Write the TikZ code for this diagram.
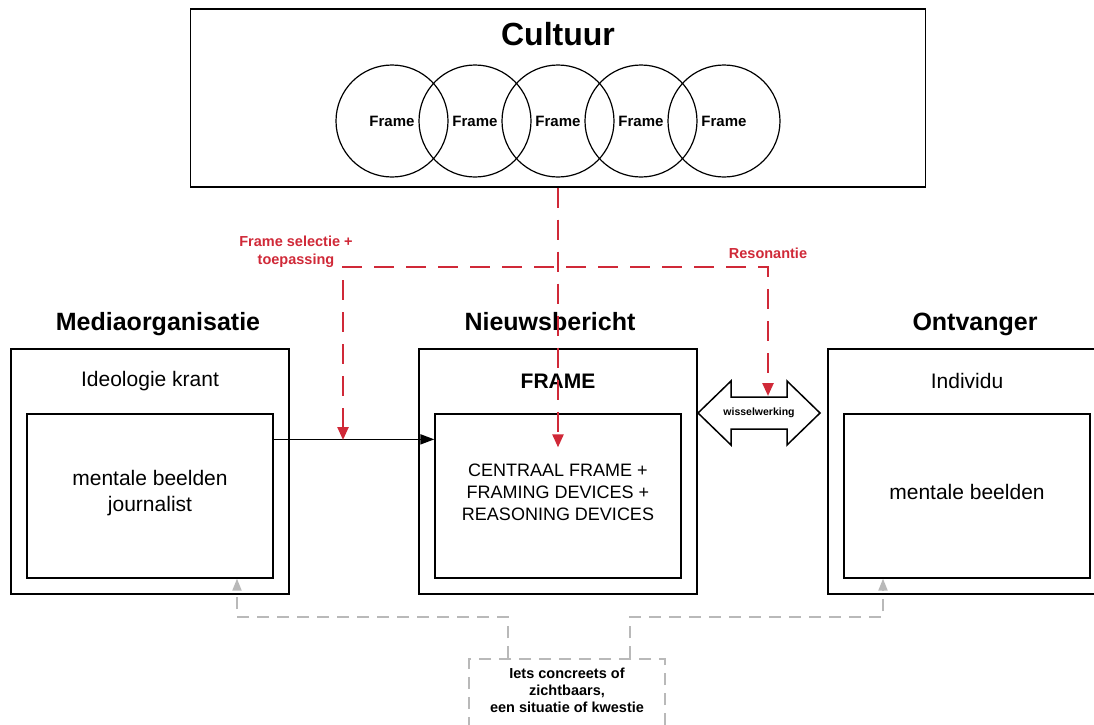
\documentclass[tikz,border=0pt]{standalone}
\usepackage{fontspec}
\setmainfont{Liberation Sans}
\usetikzlibrary{arrows.meta}
\definecolor{fred}{RGB}{208,41,56}
\definecolor{fgray}{RGB}{185,185,185}
\begin{document}
\begin{tikzpicture}[x=1pt,y=-1pt,
  outerbox/.style={draw, line width=1.3pt, minimum width=278pt, minimum height=245pt, inner sep=0pt},
  innerbox/.style={draw, line width=1.3pt, minimum width=246pt, minimum height=164pt, inner sep=0pt, align=center, font=\fontsize{21}{26}\selectfont},
  frm/.style={circle, draw, line width=1.2pt, minimum size=112pt, inner sep=0pt, font=\bfseries\fontsize{15}{18}\selectfont},
  ttl/.style={anchor=base, font=\bfseries\fontsize{25}{29}\selectfont},
  subttl/.style={font=\fontsize{21}{25}\selectfont},
  redlbl/.style={text=fred, font=\bfseries\fontsize{14.5}{18}\selectfont, align=center},
  reddash/.style={draw=fred, line width=2.4pt, dash pattern=on 20pt off 12pt},
  redtip/.style={-{Triangle[length=13pt,width=11pt]}},
  graydash/.style={draw=fgray, line width=2pt, dash pattern=on 12pt off 8pt},
  graytip/.style={-{Triangle[length=12pt,width=9pt]}},
  blk/.style={draw=black, line width=1.7pt, -{Triangle[length=14pt,width=10pt]}}
]
\clip (0,0) rectangle (1094,724);
\fill[white] (0,0) rectangle (1094,724);

% Cultuur
\node[draw, line width=1.3pt, minimum width=735pt, minimum height=178pt, inner sep=0pt] (cultuur) at (558,98) {};
\node[font=\bfseries\fontsize{32}{36}\selectfont] (ctitle) at (558,34) {Cultuur};
\node[frm] (f1) at (392,121) {Frame};
\node[frm] (f2) at (475,121) {Frame};
\node[frm] (f3) at (558,121) {Frame};
\node[frm] (f4) at (641,121) {Frame};
\node[frm] (f5) at (724,121) {Frame};

% titles
\node[ttl] (t1) at (158,330) {Mediaorganisatie};
\node[ttl] (t2) at (550,330) {Nieuwsbericht};
\node[ttl] (t3) at (975,330) {Ontvanger};

% boxes
\node[outerbox] (o1) at (150,471.5) {};
\node[outerbox] (o2) at (558,471.5) {};
\node[outerbox] (o3) at (967,471.5) {};
\node[subttl] (s1) at (150,381) {Ideologie krant};
\node[font=\bfseries\fontsize{21}{25}\selectfont] (s2) at (558,381) {FRAME};
\node[subttl] (s3) at (967,381) {Individu};
\node[innerbox] (in1) at (150,496) {};
\node[innerbox] (in2) at (558,496) {};
\node[innerbox] (in3) at (967,496) {};
\node[align=center, font=\fontsize{21}{26}\selectfont] (tx1) at (150,493) {mentale beelden\\journalist};
\node[align=center, font=\fontsize{18}{22}\selectfont] (tx2) at (558,492) {CENTRAAL FRAME +\\FRAMING DEVICES +\\REASONING DEVICES};
\node[align=center, font=\fontsize{21}{26}\selectfont] (tx3) at (967,492) {mentale beelden};

% black arrow
\draw[blk] ([yshift=-26pt]in1.north east) -- ([yshift=-26pt]in2.north west);

% double arrow
\draw[line width=1.5pt, fill=white, line join=miter]
  (698,413) -- (731,381) -- (731,397) -- (787,397) -- (787,381) -- (820,413)
  -- (787,445) -- (787,429) -- (731,429) -- (731,445) -- cycle;
\node[font=\bfseries\fontsize{10.5}{12}\selectfont] (wissel) at (759,413) {wisselwerking};

% red connectors
\coordinate (fsel) at (343,440);
\coordinate (res) at (768,396);
\draw[reddash, redtip] (cultuur.south) -- ([yshift=-34pt]in2.north);
\draw[reddash, {Triangle[length=13pt,width=11pt]}-{Triangle[length=13pt,width=11pt]}] (fsel) -- ++(0,-173) -| (res);
\node[redlbl] (lsel) at (296,252) {Frame selectie +\\toepassing};
\node[redlbl] (lres) at (768,253) {Resonantie};

% gray box
\node[draw=fgray, line width=2pt, dash pattern=on 12pt off 8pt, minimum width=196pt, minimum height=90pt, inner sep=0pt] (gbox) at (567,704) {};
\node[align=center, font=\bfseries\fontsize{14.5}{17}\selectfont] (gtxt) at (567,690) {Iets concreets of\\zichtbaars,\\een situatie of kwestie};
\draw[graydash, graytip] ([xshift=-59pt]gbox.north) -- ++(0,-41) -| ([xshift=87pt]in1.south);
\draw[graydash, graytip] ([xshift=63pt]gbox.north) -- ++(0,-41) -| ([xshift=-84pt]in3.south);
\end{tikzpicture}
\end{document}
